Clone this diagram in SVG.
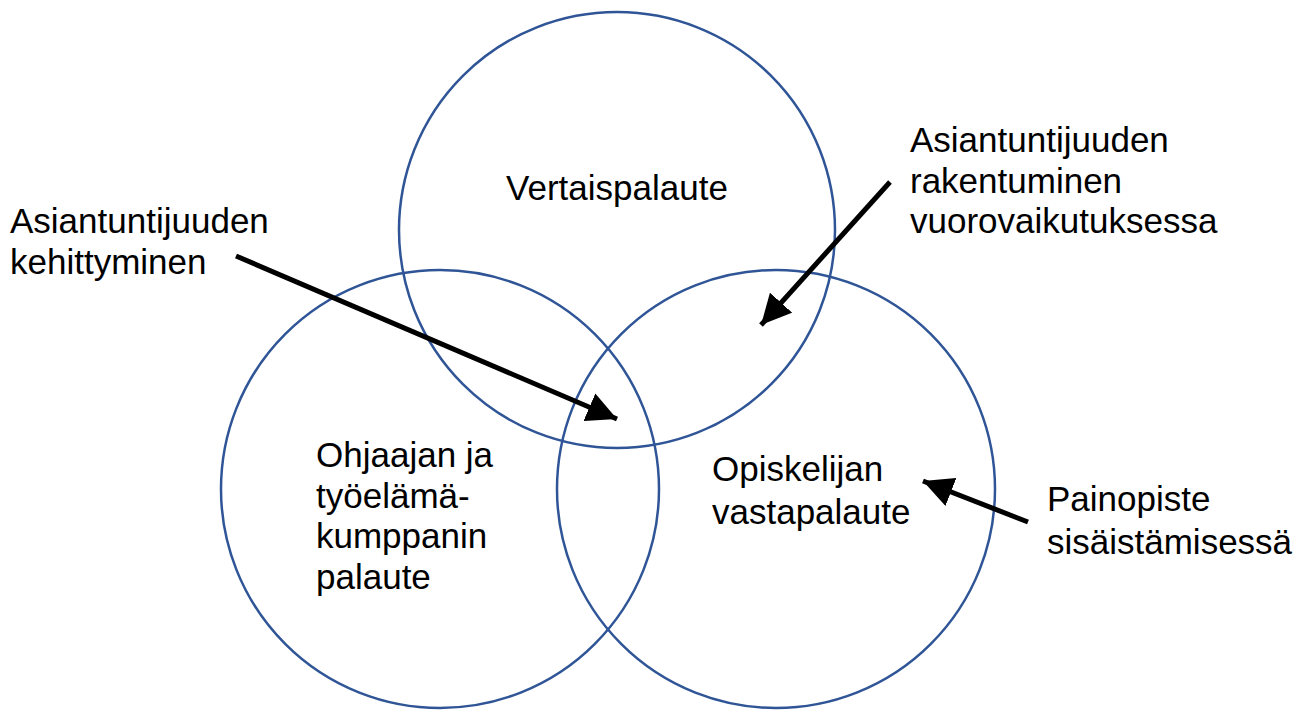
<svg xmlns="http://www.w3.org/2000/svg" width="1311" height="711" viewBox="0 0 1311 711">
<style>
.c{fill:none;stroke:#2F5597;stroke-width:2.5}
.t{font-family:"Liberation Sans",Arial,sans-serif;font-size:35px;fill:#000}
.a{stroke:#000;stroke-width:5;fill:none;marker-end:url(#ah)}
</style>
<defs>
<marker id="ah" markerUnits="userSpaceOnUse" markerWidth="32" markerHeight="30" refX="30" refY="15" orient="auto">
<path d="M0,0 L30,15 L0,30 Z" fill="#000"/>
</marker>
</defs>
<rect width="1311" height="711" fill="#fff"/>
<g id="top-circle"><circle class="c" cx="617" cy="230" r="218"/><text class="t" x="617" y="200" text-anchor="middle">Vertaispalaute</text></g>
<g id="left-circle"><circle class="c" cx="440" cy="489" r="219"/><text class="t"><tspan x="316" y="467">Ohjaajan ja</tspan><tspan x="316" y="508">työelämä-</tspan><tspan x="316" y="548">kumppanin</tspan><tspan x="316" y="589">palaute</tspan></text></g>
<g id="right-circle"><circle class="c" cx="776" cy="489" r="219"/><text class="t"><tspan x="712" y="481">Opiskelijan</tspan><tspan x="712" y="524">vastapalaute</tspan></text></g>
<g id="label-kehittyminen"><text class="t"><tspan x="10" y="233">Asiantuntijuuden</tspan><tspan x="10" y="274">kehittyminen</tspan></text></g>
<g id="label-rakentuminen"><text class="t"><tspan x="910" y="152">Asiantuntijuuden</tspan><tspan x="910" y="193">rakentuminen</tspan><tspan x="910" y="233">vuorovaikutuksessa</tspan></text></g>
<g id="label-painopiste"><text class="t"><tspan x="1047" y="511">Painopiste</tspan><tspan x="1047" y="554">sisäistämisessä</tspan></text></g>
<g id="connectors">
<line class="a" x1="236" y1="256" x2="617" y2="419"/>
<line class="a" x1="890" y1="182" x2="761" y2="325"/>
<line class="a" x1="1028" y1="522" x2="923" y2="481"/>
</g>
</svg>
